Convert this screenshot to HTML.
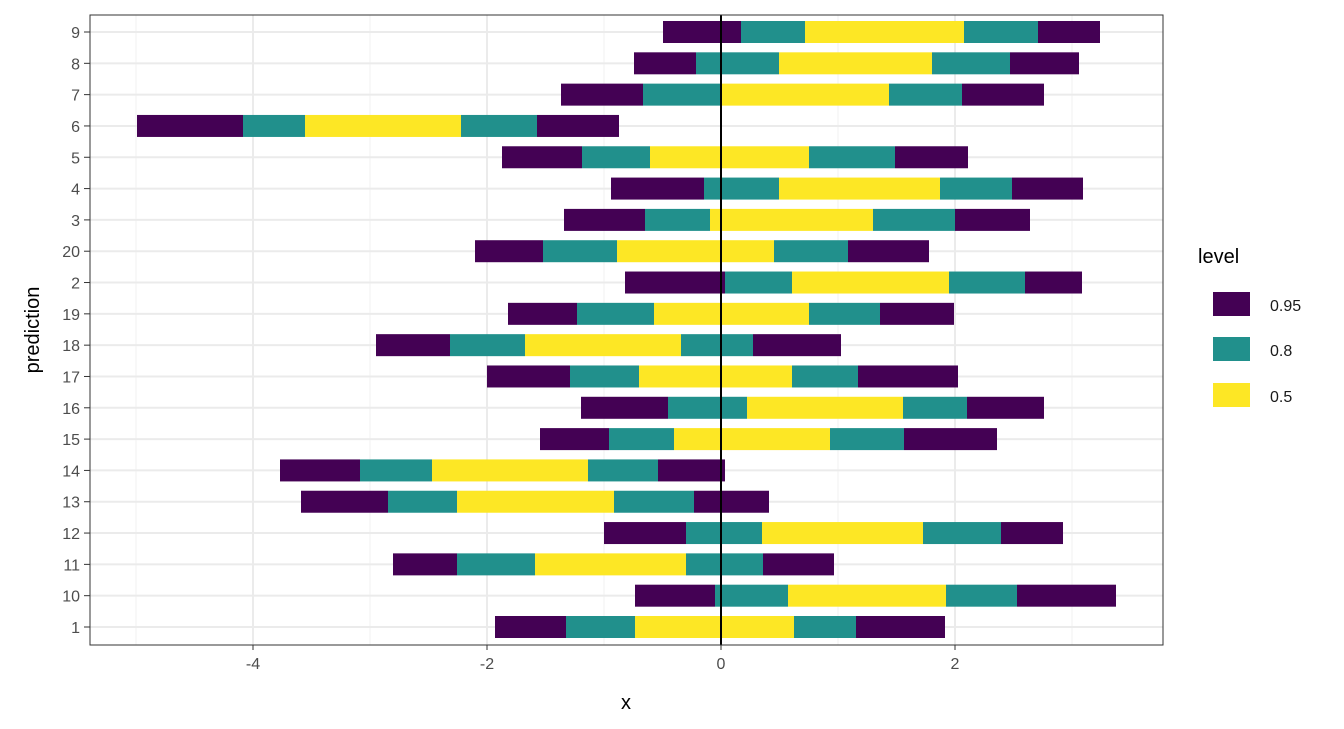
<!DOCTYPE html>
<html><head><meta charset="utf-8"><style>body{margin:0;background:#fff}svg{display:block;font-family:"Liberation Sans",sans-serif}</style></head>
<body>
<svg id="s" width="1344" height="729" xmlns="http://www.w3.org/2000/svg"></svg>
<script>
const s=document.getElementById('s');let h='';
const L=90,R=1163,T=15,B=645;
const rows=[["9",663,741,805,964,1038,1100],["8",634,696,779,932,1010,1079],["7",561,643,721,889,962,1044],["6",137,243,305,461,537,619],["5",502,582,650,809,895,968],["4",611,704,779,940,1012,1083],["3",564,645,710,873,955,1030],["20",475,543,617,774,848,929],["2",625,725,792,949,1025,1082],["19",508,577,654,809,880,954],["18",376,450,525,681,753,841],["17",487,570,639,792,858,958],["16",581,668,747,903,967,1044],["15",540,609,674,830,904,997],["14",280,360,432,588,658,725],["13",301,388,457,614,694,769],["12",604,686,762,923,1001,1063],["11",393,457,535,686,763,834],["10",635,715,788,946,1017,1116],["1",495,566,635,794,856,945]];
const P='#440154',G='#21908C',Y='#FDE725';
h+=`<rect x="${L}" y="${T}" width="${R-L}" height="${B-T}" fill="#fff"/>`;
[136,370,604,838,1072].forEach(x=>h+=`<line x1="${x}" x2="${x}" y1="${T}" y2="${B}" stroke="#f2f2f2" stroke-width="1"/>`);
[253,487,721,955].forEach(x=>h+=`<line x1="${x}" x2="${x}" y1="${T}" y2="${B}" stroke="#ebebeb" stroke-width="2"/>`);
const dy=(627-32)/19;
rows.forEach((r,i)=>{const y=32+i*dy;h+=`<line x1="${L}" x2="${R}" y1="${y}" y2="${y}" stroke="#ebebeb" stroke-width="2"/>`;});
rows.forEach((r,i)=>{const y=32+i*dy-11;const c=[P,G,Y,G,P];
for(let k=0;k<5;k++)h+=`<rect x="${r[k+1]}" y="${y}" width="${r[k+2]-r[k+1]}" height="22" fill="${c[k]}"/>`;
h+=`<line x1="84" x2="${L}" y1="${y+11}" y2="${y+11}" stroke="#333"/><text x="80" y="${y+17}" text-anchor="end" font-size="16" fill="#4d4d4d">${r[0]}</text>`;});
h+=`<line x1="721" x2="721" y1="${T}" y2="${B}" stroke="#000" stroke-width="2"/>`;
h+=`<rect x="${L}" y="${T}" width="${R-L}" height="${B-T}" fill="none" stroke="#333" stroke-width="1"/>`;
[[253,"-4"],[487,"-2"],[721,"0"],[955,"2"]].forEach(([x,t])=>h+=`<line x1="${x}" x2="${x}" y1="${B}" y2="${B+5}" stroke="#333"/><text x="${x}" y="${B+24}" text-anchor="middle" font-size="16" fill="#4d4d4d">${t}</text>`);
h+=`<text x="626" y="709" text-anchor="middle" font-size="20">x</text>`;
h+=`<text transform="translate(39,330) rotate(-90)" text-anchor="middle" font-size="20">prediction</text>`;
h+=`<text x="1198" y="263" font-size="20">level</text>`;
[[292,P,"0.95"],[337,G,"0.8"],[383,Y,"0.5"]].forEach(([y,c,t])=>h+=`<rect x="1213" y="${y}" width="37" height="24" fill="${c}"/><text x="1270" y="${y+19}" font-size="16" fill="#1a1a1a">${t}</text>`);
s.innerHTML=h;
</script>
</body></html>
